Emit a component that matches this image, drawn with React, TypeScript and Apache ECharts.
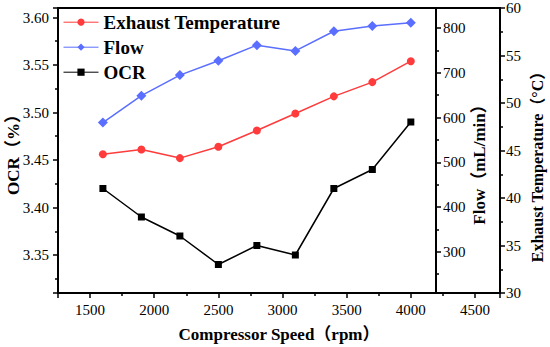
import React, { useEffect, useRef } from "react";
import * as echarts from "echarts";

const speeds = [1600, 1900, 2200, 2500, 2800, 3100, 3400, 3700, 4000];
const exhaustTemp = [44.6, 45.1, 44.2, 45.4, 47.1, 48.9, 50.7, 52.2, 54.4];
const flow = [589, 649, 695, 727, 762, 749, 793, 805, 812];
const ocr = [3.42, 3.39, 3.37, 3.34, 3.36, 3.35, 3.42, 3.44, 3.49];
const seriesNames = ["Exhaust Temperature", "Flow", "OCR"];

const FONT = "'Liberation Serif', 'Noto Sans CJK SC', serif";

export default function App() {
  const ref = useRef<HTMLDivElement>(null);
  useEffect(() => {
    if (!ref.current) return;
    const chart = echarts.init(ref.current, undefined, { renderer: "svg" });
    const labelStyle = { color: "#000", fontFamily: FONT, fontSize: 15 };
    const nameStyle = { color: "#000", fontFamily: FONT, fontSize: 17, fontWeight: "bold" as const, lineHeight: 17 };
    const axisLine = { show: true, lineStyle: { color: "#000", width: 2 } };
    const tick = { show: true, length: 5, lineStyle: { color: "#000", width: 1.5 } };
    const minor = { show: true, splitNumber: 2, length: 3, lineStyle: { color: "#000", width: 1.5 } };
    const isMult = (v: number, step: number) => Math.abs(v / step - Math.round(v / step)) < 1e-6;
    chart.setOption({
      animation: false,
      backgroundColor: "#fff",
      grid: {
        left: 58, right: 50, top: 8, bottom: 54,
        containLabel: false,
        outerBoundsMode: "none",
        show: true, borderColor: "#000", borderWidth: 2, backgroundColor: "transparent",
      },
      legend: {
        orient: "vertical",
        left: 63,
        top: 12.7,
        padding: 0,
        itemWidth: 35,
        itemHeight: 9,
        itemGap: 6,
        data: seriesNames,
        lineStyle: { width: 1 },
        textStyle: { color: "#000", fontFamily: FONT, fontSize: 19, fontWeight: "bold", lineHeight: 18 },
      },
      xAxis: {
        type: "value",
        min: 1250,
        max: 4695,
        name: "Compressor Speed（rpm）",
        nameLocation: "middle",
        nameGap: 33,
        nameMoveOverlap: false,
        nameTextStyle: nameStyle,
        axisLine,
        axisTick: tick,
        minorTick: minor,
        splitLine: { show: false },
        axisLabel: { ...labelStyle, margin: 9, formatter: (v: number) => (isMult(v, 500) ? String(v) : "") },
      },
      yAxis: [
        {
          type: "value",
          position: "left",
          min: 3.31,
          max: 3.61,
          name: "OCR（%）",
          nameLocation: "middle",
          nameGap: 36,
          nameMoveOverlap: false,
          nameTextStyle: nameStyle,
          axisLine,
          axisTick: tick,
          minorTick: minor,
          splitLine: { show: false },
          axisLabel: { ...labelStyle, margin: 9, formatter: (v: number) => (isMult(v, 0.05) ? v.toFixed(2) : "") },
        },
        {
          type: "value",
          position: "right",
          offset: -64,
          min: 208,
          max: 845,
          name: "Flow（mL/min）",
          nameLocation: "middle",
          nameGap: 35,
          nameMoveOverlap: false,
          nameTextStyle: { ...nameStyle, padding: [0, 20, 0, 0] },
          axisLine,
          axisTick: tick,
          minorTick: minor,
          splitLine: { show: false },
          axisLabel: { ...labelStyle, margin: 7, formatter: (v: number) => (isMult(v, 100) ? String(v) : "") },
        },
        {
          type: "value",
          position: "right",
          offset: 0,
          min: 30,
          max: 60,
          name: "Exhaust Temperature（°C）",
          nameLocation: "middle",
          nameGap: 29,
          nameMoveOverlap: false,
          nameTextStyle: { ...nameStyle, fontSize: 16, lineHeight: 16, padding: [0, 25, 0, 0] },
          axisLine,
          axisTick: tick,
          minorTick: minor,
          splitLine: { show: false },
          axisLabel: { ...labelStyle, margin: 6 },
        },
      ],
      series: [
        {
          name: seriesNames[0],
          type: "line",
          yAxisIndex: 2,
          data: speeds.map((s, i) => [s, exhaustTemp[i]]),
          symbol: "circle",
          symbolSize: 8,
          color: "#FF3B3B",
          lineStyle: { width: 1.5 },
        },
        {
          name: seriesNames[1],
          type: "line",
          yAxisIndex: 1,
          data: speeds.map((s, i) => [s, flow[i]]),
          symbol: "diamond",
          symbolSize: 10,
          color: "#5A6EFF",
          lineStyle: { width: 1.5 },
        },
        {
          name: seriesNames[2],
          type: "line",
          yAxisIndex: 0,
          data: speeds.map((s, i) => [s, ocr[i]]),
          symbol: "rect",
          symbolSize: 7,
          color: "#000",
          lineStyle: { width: 1.5 },
        },
      ],
    });
    return () => chart.dispose();
  }, []);
  return <div ref={ref} style={{ position: "fixed", left: 0, top: 0, width: 550, height: 347 }} />;
}
